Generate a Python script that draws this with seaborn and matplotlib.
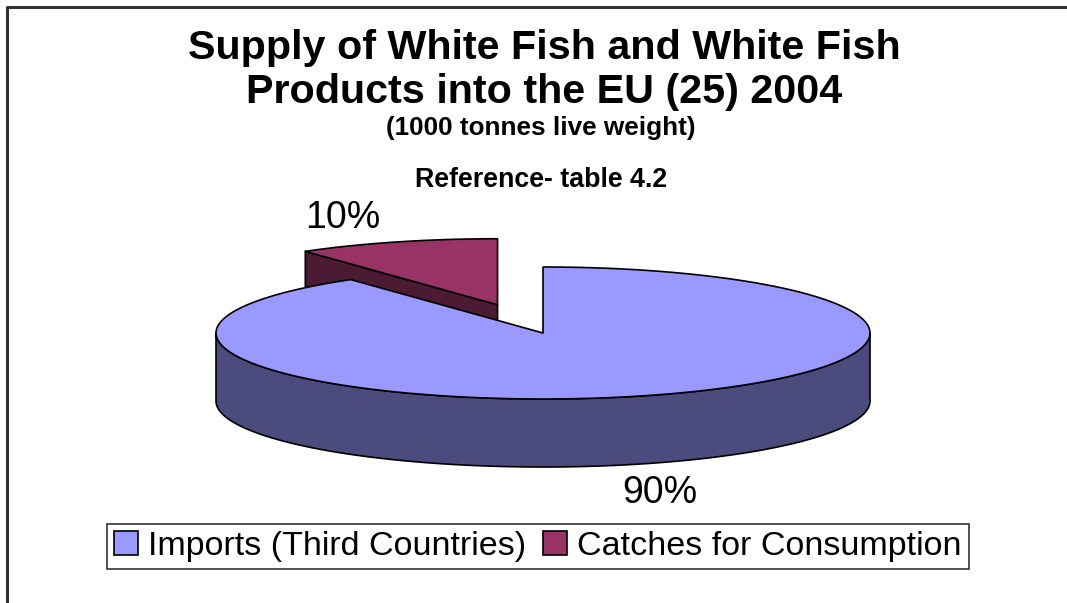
import numpy as np
import matplotlib
matplotlib.use("Agg")
import matplotlib.pyplot as plt
from matplotlib.patches import Polygon, Patch
import seaborn as sns

# Supply of white fish into the EU (25), 2004 - shares of total
categories = ["Imports (Third Countries)", "Catches for Consumption"]
values = [90, 10]
pct_labels = ["90%", "10%"]
top_colors = ["#9999FF", "#993366"]
side_colors = ["#4B4B7E", "#4B1A33"]
explode = [0.0, 0.45]

title_lines = ["Supply of White Fish and White Fish",
               "Products into the EU (25) 2004"]
subtitle = "(1000 tonnes live weight)"
note = "Reference- table 4.2"

sns.set_theme(style="white")
plt.rcParams["font.family"] = ["Liberation Sans", "DejaVu Sans"]
plt.rcParams["text.color"] = "black"

W, H = 1067, 603
fig = plt.figure(figsize=(W / 100, H / 100), dpi=100)
ax = fig.add_axes([0, 0, 1, 1])
ax.set_xlim(0, W)
ax.set_ylim(H, 0)
ax.axis("off")

# chart frame (top and left edges are visible)
ax.plot([7, 7, W], [H, 6.5, 6.5], color="#333333", lw=2.2, solid_capstyle="butt")

# projected pie geometry (pixels)
cx, cy = 543, 333
rx, ry = 327, 66
depth = 68


def ring(t, ox, oy, dz=0.0):
    return np.column_stack([ox + cx + rx * np.cos(t), oy + cy - ry * np.sin(t) + dz])


# slice angles: start at 12 o'clock and run clockwise
total = float(sum(values))
spans = []
start = np.pi / 2
for v in values:
    sweep = 2 * np.pi * v / total
    spans.append((start - sweep, start))
    start -= sweep

slices = []
for i, (t0, t1) in enumerate(spans):
    mid = 0.5 * (t0 + t1)
    ox = explode[i] * rx * np.cos(mid)
    oy = -explode[i] * ry * np.sin(mid)
    slices.append((oy, i, t0, t1, ox))

edge_kw = dict(edgecolor="black", linewidth=1.2, joinstyle="round")

# paint back-to-front
for oy, i, t0, t1, ox in sorted(slices):
    apex = np.array([ox + cx, oy + cy])
    down = np.array([0, depth])
    # radial cut faces turned toward the viewer
    for t, sign in ((t1, 1), (t0, -1)):
        if sign * np.cos(t) < -1e-6:
            p = ring(np.array([t]), ox, oy)[0]
            face = np.array([apex, p, p + down, apex + down])
            ax.add_patch(Polygon(face, closed=True, facecolor=side_colors[i], **edge_kw))
    # outer wall on the front half of the rim
    k0 = np.floor((t0 - np.pi) / (2 * np.pi)) - 1
    for k in range(int(k0), int(k0) + 4):
        a = max(t0, np.pi + 2 * np.pi * k)
        b = min(t1, 2 * np.pi + 2 * np.pi * k)
        if b > a:
            tt = np.linspace(a, b, 200)
            upper = ring(tt, ox, oy)
            lower = ring(tt[::-1], ox, oy, depth)
            ax.add_patch(Polygon(np.vstack([upper, lower]), closed=True,
                                 facecolor=side_colors[i], **edge_kw))
    # top face
    tt = np.linspace(t0, t1, 400)
    top = np.vstack([apex, ring(tt, ox, oy)])
    ax.add_patch(Polygon(top, closed=True, facecolor=top_colors[i], **edge_kw))

# percentage labels
label_pos = {0: (660, 493), 1: (343, 218)}
for i, lab in enumerate(pct_labels):
    x, y = label_pos[i]
    ax.text(x, y, lab, fontsize=27, ha="center", va="center", color="black")

# titles
ax.text(544, 48, title_lines[0], fontsize=29.7, fontweight="bold", ha="center", va="center")
ax.text(544, 92, title_lines[1], fontsize=29.7, fontweight="bold", ha="center", va="center")
ax.text(541, 128, subtitle, fontsize=18.8, fontweight="bold", ha="center", va="center")
ax.text(541, 180, note, fontsize=19.3, fontweight="bold", ha="center", va="center")

handles = [Patch(facecolor=c, edgecolor="black", linewidth=1.2) for c in top_colors]
leg = ax.legend(handles, categories, loc="center", bbox_to_anchor=(538 / W, 1 - 546.5 / H),
                bbox_transform=fig.transFigure, ncol=2, fontsize=24.5, frameon=True,
                fancybox=False, shadow=False, handlelength=0.7, handleheight=0.7,
                handletextpad=0.3, columnspacing=0.5, borderpad=0.2, borderaxespad=0)
leg.get_frame().set_edgecolor("black")
leg.get_frame().set_linewidth(1.2)
for txt in leg.get_texts():
    txt.set_color("black")

fig.savefig("out.png", dpi=100, facecolor="white")
